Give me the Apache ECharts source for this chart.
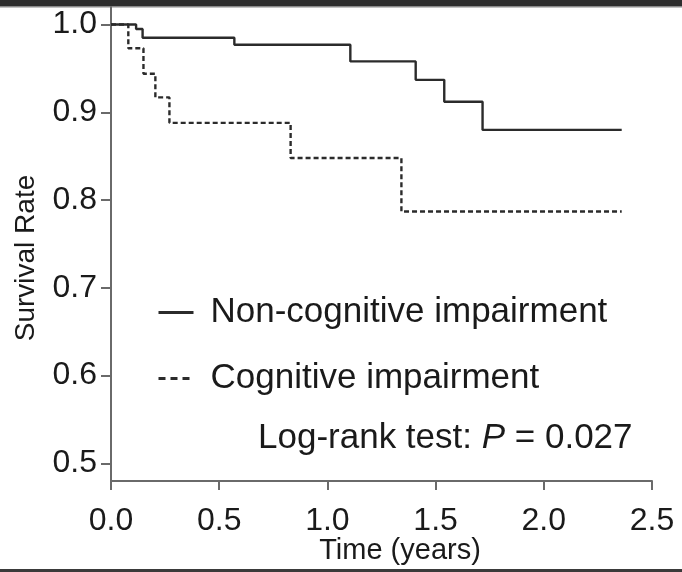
<!DOCTYPE html>
<html>
<head>
<meta charset="utf-8">
<title>Survival Rate</title>
<script src="https://cdn.jsdelivr.net/npm/echarts@6/dist/echarts.min.js"></script>
<style>
  html, body { margin: 0; padding: 0; background: #fff; }
  #chart { width: 682px; height: 572px; }
</style>
</head>
<body>
<div id="chart"></div>
<script>
// Kaplan-Meier steps (time in years, survival rate after the step)
const nonCogTimes = [0, 0.116, 0.146, 0.57, 1.106, 1.408, 1.54, 1.717, 2.36]
const nonCogRates = [1.0, 0.995, 0.985, 0.977, 0.958, 0.937, 0.912, 0.880, 0.880]
const cogTimes = [0, 0.08, 0.15, 0.205, 0.27, 0.83, 1.342, 2.36]
const cogRates = [1.0, 0.973, 0.944, 0.917, 0.888, 0.848, 0.787, 0.787]
const yTicks = [0.5, 0.6, 0.7, 0.8, 0.9, 1.0]
const seriesNames = ['Non-cognitive impairment', 'Cognitive impairment']

const FONT = 'Liberation Sans, Arial, Helvetica, sans-serif'
const INK = '#1a1a1a'
const AXIS = '#6a6a6a'

function pairs (xs, ys) {
  return xs.map((x, i) => [x, ys[i]])
}

const chart = echarts.init(document.getElementById('chart'), null, { renderer: 'canvas' })

const option = {
  backgroundColor: '#fff',
  animation: false,
  grid: { left: 111, right: 30, top: 7, bottom: 91 },
  xAxis: {
    type: 'value',
    min: 0,
    max: 2.5,
    interval: 0.5,
    splitLine: { show: false },
    axisLine: { lineStyle: { color: AXIS, width: 2 } },
    axisTick: { length: 9, lineStyle: { color: AXIS, width: 2 } },
    axisLabel: {
      margin: 24,
      fontFamily: FONT,
      fontSize: 32,
      color: INK,
      formatter: v => v.toFixed(1)
    }
  },
  yAxis: {
    type: 'value',
    min: 0.48,
    max: 1.02,
    splitLine: { show: false },
    axisLine: { show: true, lineStyle: { color: AXIS, width: 2 } },
    axisTick: { show: true, length: 10, customValues: yTicks, lineStyle: { color: AXIS, width: 2 } },
    axisLabel: {
      margin: 14,
      fontFamily: FONT,
      fontSize: 32,
      color: INK,
      customValues: yTicks,
      formatter: v => v.toFixed(1)
    }
  },
  legend: {
    orient: 'vertical',
    left: 152,
    top: 290,
    itemWidth: 35,
    itemHeight: 14,
    itemGap: 31,
    data: [
      { name: seriesNames[0], lineStyle: { width: 3, type: 'solid' } },
      { name: seriesNames[1], lineStyle: { width: 3, type: [7, 5] } }
    ],
    itemStyle: { opacity: 0 },
    textStyle: {
      fontFamily: FONT,
      fontSize: 35,
      color: INK,
      padding: [0, 0, 0, 12]
    }
  },
  graphic: [
    { type: 'rect', shape: { x: 0, y: 0, width: 682, height: 6 }, style: { fill: '#2e2e2e' } },
    { type: 'rect', shape: { x: 0, y: 6, width: 682, height: 1.5 }, style: { fill: '#8a8a8a' } },
    { type: 'rect', shape: { x: 0, y: 569, width: 682, height: 3 }, style: { fill: '#3a3a3a' } },
    {
      type: 'text',
      x: 26,
      y: 258,
      rotation: Math.PI / 2,
      style: {
        text: 'Survival Rate',
        font: '28px ' + FONT,
        fill: INK,
        align: 'center',
        verticalAlign: 'middle'
      }
    },
    {
      type: 'text',
      x: 400,
      y: 551,
      style: {
        text: 'Time (years)',
        font: '29px ' + FONT,
        fill: INK,
        align: 'center',
        verticalAlign: 'middle'
      }
    },
    {
      type: 'text',
      x: 258,
      y: 438,
      style: {
        text: 'Log-rank test: {i|P} = 0.027',
        font: '35px ' + FONT,
        fill: INK,
        verticalAlign: 'middle',
        rich: {
          i: { fontStyle: 'italic', fontSize: 35, fontFamily: FONT, fill: INK }
        }
      }
    }
  ],
  series: [
    {
      name: seriesNames[0],
      type: 'line',
      step: 'end',
      symbol: 'none',
      color: '#2b2b2b',
      lineStyle: { color: '#2b2b2b', width: 2.4, type: 'solid' },
      data: pairs(nonCogTimes, nonCogRates)
    },
    {
      name: seriesNames[1],
      type: 'line',
      step: 'end',
      symbol: 'none',
      color: '#2b2b2b',
      lineStyle: { color: '#2b2b2b', width: 2.4, type: [5, 3] },
      data: pairs(cogTimes, cogRates)
    }
  ]
}

chart.setOption(option)
</script>
</body>
</html>
